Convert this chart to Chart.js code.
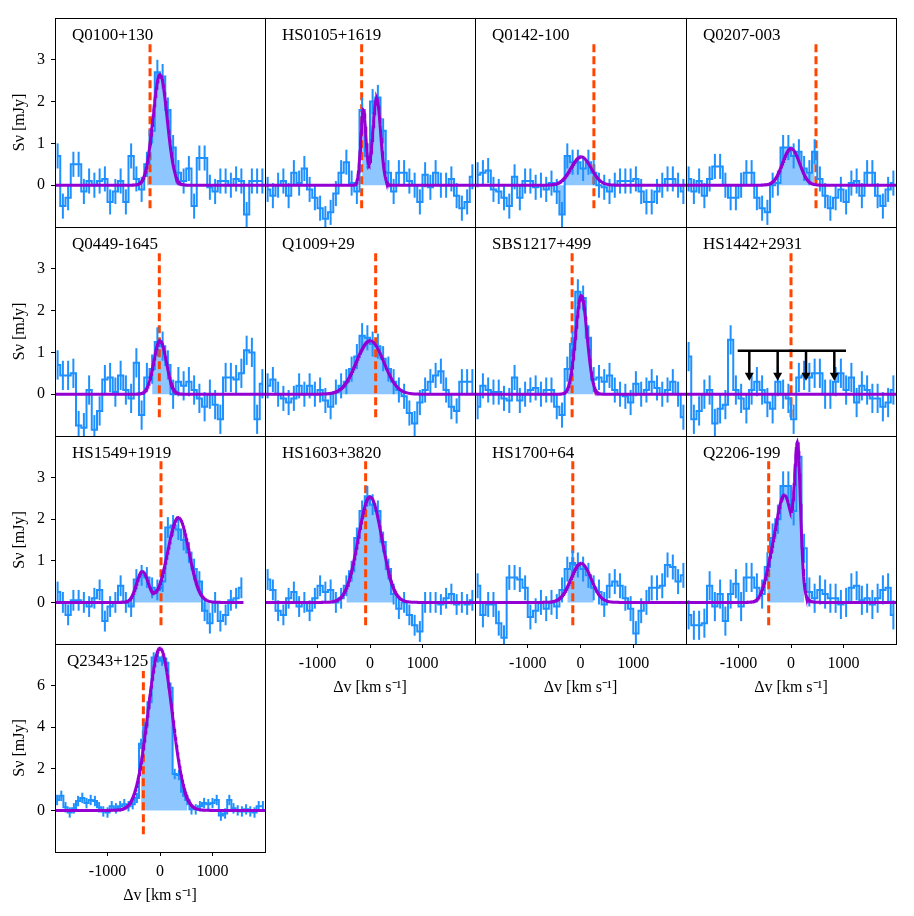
<!DOCTYPE html>
<html><head><meta charset="utf-8">
<script src="https://cdn.jsdelivr.net/npm/chart.js@4.4.1/dist/chart.umd.min.js"></script>
<style>
html,body{margin:0;padding:0;background:#fff;width:914px;height:916px;overflow:hidden;}
.p{position:absolute;}
</style></head><body>
<script>
// ---------------- DATA ----------------
const velocities100 = [-1950,-1850,-1750,-1650,-1550,-1450,-1350,-1250,-1150,-1050,-950,-850,-750,-650,-550,-450,-350,-250,-150,-50,50,150,250,350,450,550,650,750,850,950,1050,1150,1250,1350,1450,1550,1650,1750,1850,1950];
const velocities80 = [-1960,-1880,-1800,-1720,-1640,-1560,-1480,-1400,-1320,-1240,-1160,-1080,-1000,-920,-840,-760,-680,-600,-520,-440,-360,-280,-200,-120,-40,40,120,200,280,360,440,520,600,680,760,840,920,1000,1080,1160,1240,1320,1400,1480,1560,1640,1720,1800,1880,1960];

const panelNames = ['Q0100+130','HS0105+1619','Q0142-100','Q0207-003','Q0449-1645','Q1009+29','SBS1217+499','HS1442+2931','HS1549+1919','HS1603+3820','HS1700+64','Q2206-199','Q2343+125'];

const fluxQ0100 = [0.7,-0.5,-0.3,0.5,0.5,-0.15,0.1,0,0.1,0.15,-0.4,-0.15,0.1,-0.4,0.7,0.15,-0.1,0.5,1.3,2.7,2.6,1.8,0.9,0.3,0.1,0.4,-0.5,0.65,0.65,-0.05,-0.15,0.1,0.1,0,0.15,0.1,-0.7,0.1,0.1,0.1];
const fluxHS0105 = [-0.1,-0.25,0,0.1,-0.25,0.3,0.05,0.4,-0.1,-0.3,-0.55,-0.8,-0.65,-0.2,0.3,0.55,0.05,-0.15,1.8,0.7,2.0,2.1,1.3,0.3,-0.15,0.3,0.3,0.1,0,-0.4,0.25,-0.05,0.3,0,0,0.15,-0.25,-0.55,-0.4,0.2];
const fluxQ0142 = [0.25,0.3,0.35,-0.1,-0.15,-0.3,-0.5,0.2,-0.3,0.1,0.1,-0.05,0,-0.1,0.05,-0.15,-0.7,0.7,0.55,0.55,0.4,0.55,0.3,0,-0.05,-0.15,0,0.1,0.1,0.1,0.15,-0.15,-0.4,-0.4,-0.15,0,0.15,0.15,0,-0.15];
const fluxQ0207 = [0.15,-0.15,0.1,-0.25,0.15,0.45,0.45,0,-0.3,-0.3,0,0.3,0.3,-0.3,-0.55,-0.65,0,0.05,0.9,0.9,0.7,0.8,0.4,0.3,0.8,0.15,-0.25,-0.55,-0.3,-0.1,-0.4,0.05,0.1,-0.25,0.3,0.3,-0.25,-0.5,-0.1,0.05];
const fluxQ0449 = [0.7,0.45,0.45,0.5,-0.75,-0.8,0.1,-0.85,-0.4,0.35,0.4,0.05,0.45,0.1,-0.1,0.75,-0.5,0.4,0.6,1.25,1.15,0.7,0,0.3,0.2,0.3,0.1,-0.1,-0.3,0,-0.25,-0.6,0.4,0.4,0.35,0.5,1.05,1.0,-0.6,0.25];
const fluxQ1009 = [0.2,0.35,0,-0.1,-0.2,-0.1,0.2,0,0.2,0,0.1,-0.15,-0.3,0.05,0.2,0.3,0.6,0.9,1.4,1.35,1.2,1.15,0.85,0.6,0.3,0.1,-0.05,-0.45,-0.7,-0.2,0.1,0.3,0.45,0.55,0.1,-0.3,-0.4,0.3,0.3,0.3];
const fluxSBS1217 = [-0.3,0.2,0.1,0.05,0.05,-0.1,-0.15,0.4,-0.15,0,0.1,0.15,0,0.1,0.1,-0.3,-0.5,0.6,1.2,2.45,2.3,1.35,0.35,0.4,0.3,0.45,0.1,0,-0.05,-0.2,0.25,0,0.1,0.3,0.15,0,0.1,0.3,0,-0.55];
const fluxHS1442 = [0.9,-0.6,-0.4,0,0.1,-0.7,-0.35,-0.25,1.3,0.1,-0.1,-0.35,0.1,0.3,0.1,-0.2,-0.35,0.3,0,-0.1,-0.6,0.4,0.45,0.4,0.5,0.5,0,0,0.3,0.5,0.1,0.4,-0.2,0.2,0.1,-0.1,-0.1,-0.3,-0.2,0.1];
const fluxHS1549 = [0.25,0,-0.3,0.05,0.05,0,-0.1,0.1,0.3,-0.45,-0.1,0,0.4,0,-0.1,0.55,0.65,0.6,0.35,0.3,0.5,1.8,1.85,1.75,1.5,1.2,0.8,0.5,-0.2,-0.5,0,-0.45,-0.3,0.05,0.1,0.35];
const fluxHS1603 = [0.55,0.3,-0.2,-0.3,0.1,0.25,-0.1,0,-0.2,0.1,0.4,0.25,0.3,0,0.1,0.4,0.75,1.55,2.2,2.55,2.35,2.2,1.45,0.8,0.2,-0.15,0,-0.3,-0.55,-0.7,0,0,0,-0.05,0.1,0.2,-0.05,0,-0.05,0.05];
const fluxHS1700 = [0.4,-0.3,-0.05,-0.05,-0.5,-0.85,0.6,0.6,0.55,0.35,-0.35,-0.2,0,-0.15,0,-0.1,0.3,0.8,0.95,0.9,0.8,0.65,0.35,0.25,-0.05,0.4,0.5,0.4,0.1,-0.15,-0.75,-0.2,0,0.35,0.35,0.4,0.9,0.85,0.5,0.65];
const fluxQ2206 = [-0.3,-0.55,-0.55,-0.5,0.4,-0.1,0.2,-0.45,0.2,0.45,-0.1,0.6,0.6,0.35,0.2,0.85,1.55,2.0,2.8,2.8,2.2,3.5,1.3,0.25,0.1,0.3,0.2,0.1,0.1,-0.05,0,0.35,0.4,0.05,0.1,-0.05,0.1,0.3,0.35,-0.3];
const fluxQ2343 = [0.5,0.7,0.15,-0.1,0.1,0.45,0.6,0.35,0.5,0.45,0.15,-0.05,-0.1,0.2,0.1,0.2,0.3,0.2,0.3,0.6,3.2,4.0,5.2,7.35,7.35,7.2,7.1,5.9,1.75,1.7,0.9,0.5,0.05,0.05,0.2,0.35,0.3,0.35,0.5,-0.25,-0.15,0.5,0.1,0,-0.05,0.05,-0.05,-0.1,0.2,0.2];

// Gaussian model components [amplitude mJy, centre km/s, sigma km/s]
const gaussQ0100 = [[2.65,0,135]];
const gaussHS0105 = [[1.8,-127,50],[2.08,127,75]];
const gaussQ0142 = [[0.68,10,190]];
const gaussQ0207 = [[0.88,0,160]];
const gaussQ0449 = [[1.28,0,120]];
const gaussQ1009 = [[1.28,0,260]];
const gaussSBS1217 = [[2.36,15,108]];
const gaussHS1442 = [];
const gaussHS1549 = [[0.74,-337,110],[2.04,349,200]];
const gaussHS1603 = [[2.54,0,225]];
const gaussHS1700 = [[0.94,10,190]];
const gaussQ2206 = [[0.45,-400,120],[2.55,-120,168],[2.95,127,55]];
const gaussQ2343 = [[7.8,0,230]];

const fluxErrors = [0.3,0.3,0.3,0.3,0.35,0.3,0.3,0.35,0.25,0.25,0.3,0.35,0.25];
const dashVelocity = [-190,-159,254,476,-13,108,-159,0,19,-83,-146,-425,-317];
const fillStart = [-250,-150,-450,-250,-150,-650,-250,null,-650,-450,-250,-450,-360];
const fillEnd   = [350,350,350,450,250,650,250,null,950,450,250,250,520];
const modelEnd  = [2000,2000,2000,2000,2000,2000,2000,2000,1590,2000,2000,2000,2000];

// HS1442+2931 upper limit
const limitLevel = 1.04;
const limitSpan = [-1016, 1048];
const limitArrows = [-794, -254, 286, 825];
const limitArrowTip = 0.32;

const xTicks = [-1000, 0, 1000];
const yTicksMain = [0, 1, 2, 3];
const yTicksLast = [0, 2, 4, 6];
const yRangeMain = [-1, 4];
const yRangeLast = [-2, 8];
const dashRangeMain = [-0.55, 3.4];
const dashRangeLast = [-1.15, 6.7];

const fluxSets = [fluxQ0100,fluxHS0105,fluxQ0142,fluxQ0207,fluxQ0449,fluxQ1009,fluxSBS1217,fluxHS1442,fluxHS1549,fluxHS1603,fluxHS1700,fluxQ2206,fluxQ2343];
const gaussSets = [gaussQ0100,gaussHS0105,gaussQ0142,gaussQ0207,gaussQ0449,gaussQ1009,gaussSBS1217,gaussHS1442,gaussHS1549,gaussHS1603,gaussHS1700,gaussQ2206,gaussQ2343];

// ---------------- LAYOUT ----------------
const colL = [55,265,475,686], colR = [265,475,686,896];
const rowT = [18,227,436,644], rowB = [227,436,644,852];
const PADL = 55, PADT = 18, PADR = 6, PADB = 55;
const FONT = "'Liberation Serif','Times New Roman',serif";
const BLUE = '#1e90ff', FILL = 'rgba(30,144,255,0.5)', PURPLE = '#9400d3', RED = '#ff4500';

function gaussValue(comps, v) {
  let s = 0;
  for (const [a, c, w] of comps) s += a * Math.exp(-0.5 * ((v - c) / w) ** 2);
  return s;
}

function makePlugin(k, vel, flux) {
  return {
    id: 'panelDeco' + k,
    afterDatasetDraw(chart, args) {
      if (args.index !== 1) return;
      const {ctx, chartArea: a, scales: {x, y}} = chart;
      ctx.save();
      ctx.beginPath(); ctx.rect(a.left, a.top, a.right - a.left, a.bottom - a.top); ctx.clip();
      ctx.strokeStyle = BLUE; ctx.lineWidth = 2;
      const e = fluxErrors[k];
      flux.forEach((f, i) => {
        const px = x.getPixelForValue(vel[i]);
        ctx.beginPath();
        ctx.moveTo(px, y.getPixelForValue(f - e));
        ctx.lineTo(px, y.getPixelForValue(f + e));
        ctx.stroke();
      });
      ctx.restore();
    },
    afterDatasetsDraw(chart) {
      const {ctx, chartArea: a, scales: {x, y}} = chart;
      ctx.save();
      if (panelNames[k] === 'HS1442+2931') {
        ctx.strokeStyle = '#000'; ctx.fillStyle = '#000'; ctx.lineWidth = 2.5;
        const yl = y.getPixelForValue(limitLevel);
        ctx.beginPath(); ctx.moveTo(x.getPixelForValue(limitSpan[0]), yl); ctx.lineTo(x.getPixelForValue(limitSpan[1]), yl); ctx.stroke();
        const tip = y.getPixelForValue(limitArrowTip);
        limitArrows.forEach(v => {
          const px = x.getPixelForValue(v);
          ctx.beginPath(); ctx.moveTo(px, yl); ctx.lineTo(px, tip - 7); ctx.stroke();
          ctx.beginPath(); ctx.moveTo(px - 4.5, tip - 8); ctx.lineTo(px + 4.5, tip - 8); ctx.lineTo(px, tip); ctx.closePath(); ctx.fill();
        });
      }
      ctx.strokeStyle = '#000'; ctx.lineWidth = 1;
      ctx.strokeRect(Math.round(a.left) + 0.5, Math.round(a.top) + 0.5, Math.round(a.right - a.left), Math.round(a.bottom - a.top));
      ctx.fillStyle = '#000'; ctx.font = '17px ' + FONT; ctx.textBaseline = 'alphabetic'; ctx.textAlign = 'left';
      const off = k === 12 ? 12 : 17;
      ctx.fillText(panelNames[k], a.left + off, a.top + 22);
      ctx.restore();
    }
  };
}

panelNames.forEach((name, k) => {
  const row = Math.floor(k / 4), col = k % 4;
  const W = colR[col] - colL[col], H = rowB[row] - rowT[row];
  const cw = W + PADL + PADR, ch = H + PADT + PADB;
  const div = document.createElement('div');
  div.className = 'p';
  div.style.left = (colL[col] - PADL) + 'px';
  div.style.top = (rowT[row] - PADT) + 'px';
  div.style.width = cw + 'px'; div.style.height = ch + 'px';
  const cv = document.createElement('canvas');
  cv.width = cw; cv.height = ch; cv.style.width = cw + 'px'; cv.style.height = ch + 'px';
  div.appendChild(cv); document.body.appendChild(div);

  const last = k === 12;
  const vel = last ? velocities80 : velocities100;
  const flux = fluxSets[k];
  const dataPts = flux.map((f, i) => ({x: vel[i], y: f}));
  const fillPts = fillStart[k] === null ? [] : dataPts.filter(p => p.x >= fillStart[k] && p.x <= fillEnd[k]);
  const modelPts = [];
  for (let v = -2000; v <= modelEnd[k]; v += 10) modelPts.push({x: v, y: gaussValue(gaussSets[k], v)});
  const dr = last ? dashRangeLast : dashRangeMain;
  const yr = last ? yRangeLast : yRangeMain;
  const yt = last ? yTicksLast : yTicksMain;
  const showY = col === 0;
  const showX = (row === 2 && col > 0) || row === 3;

  new Chart(cv, {
    type: 'line',
    data: {datasets: [
      {label: 'model', data: modelPts, borderColor: PURPLE, borderWidth: 3, pointRadius: 0, fill: false, tension: 0, order: 0},
      {label: 'data', data: dataPts, borderColor: BLUE, borderWidth: 2, stepped: 'middle', pointRadius: 0, fill: false, order: 1},
      {label: 'dash', data: [{x: dashVelocity[k], y: dr[0]}, {x: dashVelocity[k], y: dr[1]}], borderColor: RED, borderWidth: 3, borderDash: [8, 4], pointRadius: 0, fill: false, order: 2},
      {label: 'fill', data: fillPts, borderColor: 'rgba(0,0,0,0)', borderWidth: 0, backgroundColor: FILL, stepped: 'middle', pointRadius: 0, fill: 'origin', order: 3}
    ]},
    options: {
      responsive: false, animation: false, devicePixelRatio: 1,
      layout: {padding: {top: PADT, right: PADR, left: 0, bottom: 0}},
      plugins: {legend: {display: false}, tooltip: {enabled: false}},
      scales: {
        x: {
          type: 'linear', min: -2000, max: 2000,
          afterFit(s) { s.height = PADB; },
          afterBuildTicks(s) { s.ticks = xTicks.map(v => ({value: v})); },
          grid: {display: showX, drawOnChartArea: false, drawTicks: true, tickLength: 4, color: '#000', lineWidth: 1},
          border: {display: false},
          ticks: {display: showX, color: '#000', font: {family: FONT, size: 16}, padding: 6, maxRotation: 0, autoSkip: false, callback: v => String(v)},
          title: {display: showX, text: 'Δv [km s⁻¹]', color: '#000', font: {family: FONT, size: 16}, padding: {top: 0, bottom: 2}}
        },
        y: {
          type: 'linear', min: yr[0], max: yr[1],
          afterFit(s) { s.width = PADL; },
          afterBuildTicks(s) { s.ticks = yt.map(v => ({value: v})); },
          grid: {display: showY, drawOnChartArea: false, drawTicks: true, tickLength: 4, color: '#000', lineWidth: 1},
          border: {display: false},
          ticks: {display: showY, color: '#000', font: {family: FONT, size: 16}, padding: 6, callback: v => String(v)},
          title: {display: showY, text: 'Sν [mJy]', color: '#000', font: {family: FONT, size: 16}, padding: {top: 10, bottom: 0}}
        }
      }
    },
    plugins: [makePlugin(k, vel, flux)]
  });
});
</script>
</body></html>
